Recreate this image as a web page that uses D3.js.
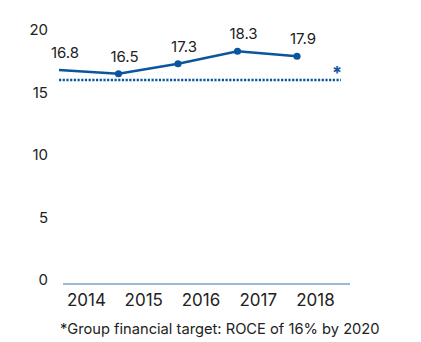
<!DOCTYPE html>
<html><head><meta charset="utf-8">
<script src="https://cdn.jsdelivr.net/npm/d3@7"></script>
<style>body{margin:0;background:#fff}svg{display:block;font-family:Inter,"Liberation Sans",Arial,sans-serif}</style>
</head><body><div id="chart"></div>
<script>
const years = [2014, 2015, 2016, 2017, 2018];
const roce = [16.8, 16.5, 17.3, 18.3, 17.9];
const target = 16;
const yTicks = [0, 5, 10, 15, 20];
const footnote = "*Group financial target: ROCE of 16% by 2020";

const W = 421, H = 342;
const blue = "#0b559f";
const font = "Inter, Liberation Sans, Arial, sans-serif";
const svg = d3.select("#chart").append("svg").attr("width", W).attr("height", H);

const y = d3.scaleLinear().domain([0, 20]).range([280, 30]);
const x = d3.scalePoint().domain(years).range([59, 297]);
const xLab = d3.scalePoint().domain(years).range([86, 315]);

// y axis labels
const yAxis = d3.axisLeft(y).tickValues(yTicks).tickSize(0).tickPadding(0).tickFormat(d3.format("d"));
const gy = svg.append("g").attr("transform", "translate(48,0)").call(yAxis);
gy.select(".domain").remove();
gy.selectAll("text").attr("font-size", 15).attr("fill", "#222").attr("font-family", font);

// baseline
svg.append("line").attr("x1", 63).attr("x2", 350).attr("y1", y(0) + 4).attr("y2", y(0) + 4)
  .attr("stroke", "#7aa3cc").attr("stroke-width", 1.5);

// x labels
const xAxis = d3.axisBottom(xLab).tickSize(0).tickPadding(0);
const gx = svg.append("g").attr("transform", `translate(0,${y(0) + 14})`).call(xAxis);
gx.select(".domain").remove();
gx.selectAll("text").attr("font-size", 17).attr("fill", "#222").attr("dy", "0.71em").attr("font-family", font);

// target dotted line
svg.append("line").attr("x1", 59).attr("x2", 341).attr("y1", y(target)).attr("y2", y(target))
  .attr("stroke", blue).attr("stroke-width", 2.4).attr("stroke-dasharray", "2.2,1.5");
svg.append("text").attr("x", 337).attr("y", y(target) - 1).attr("text-anchor", "middle")
  .attr("font-size", 18).attr("font-weight", "bold").attr("fill", blue).text("*");

const data = years.map((yr, i) => ({ yr, v: roce[i] }));
svg.append("path").datum(data)
  .attr("d", d3.line().x(d => x(d.yr)).y(d => y(d.v)))
  .attr("fill", "none").attr("stroke", blue).attr("stroke-width", 2.6);
svg.selectAll("circle.pt").data(data.slice(1)).join("circle")
  .attr("cx", d => x(d.yr)).attr("cy", d => y(d.v)).attr("r", 3.6).attr("fill", blue);

svg.selectAll("text.val").data(data).join("text").attr("class", "val")
  .attr("x", d => x(d.yr) + 6).attr("y", d => y(d.v) - 12).attr("text-anchor", "middle")
  .attr("font-size", 15).attr("fill", "#222").text(d => d3.format(".1f")(d.v));

svg.append("text").attr("x", 60).attr("y", 334).attr("font-size", 14.7).attr("fill", "#222").text(footnote);
</script></body></html>
